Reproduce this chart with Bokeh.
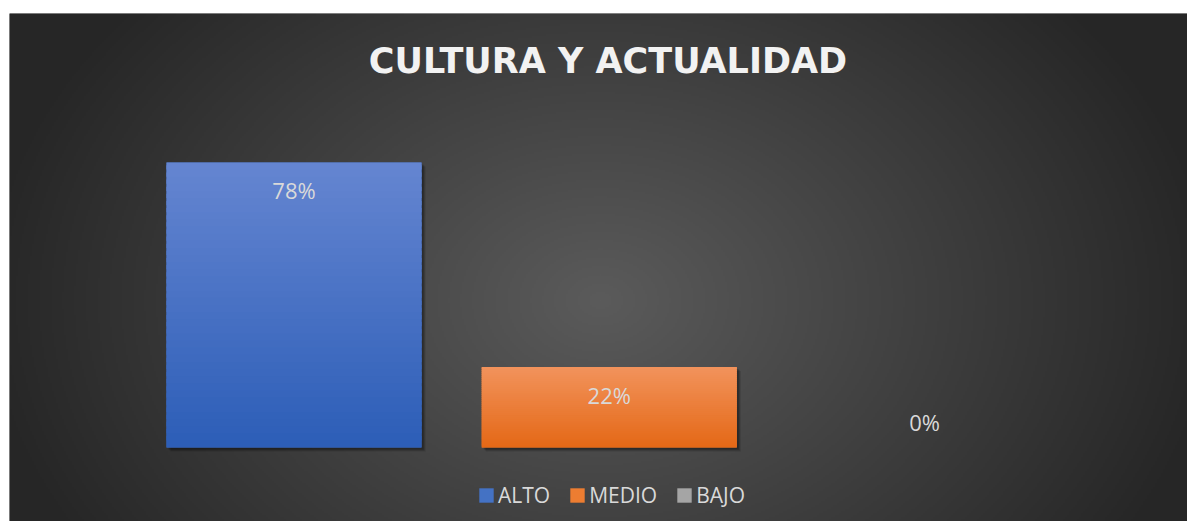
import numpy as np
from bokeh.plotting import figure
from bokeh.models import Range1d, ColumnDataSource, Legend, LegendItem, Label
from bokeh.core.properties import value
from bokeh.embed import file_html
from bokeh.resources import INLINE

# ---- data ----
categories = ["ALTO", "MEDIO", "BAJO"]
values = [78, 22, 0]
labels = ["78%", "22%", "0%"]
title_text = "CULTURA Y ACTUALIDAD"

# ---- styles ----
legend_colors = ["#4472c4", "#ed7d31", "#a5a5a5"]
top_colors = ["#6586d1", "#f2935c", "#b8b8b8"]
bottom_colors = ["#2c5db7", "#e46816", "#8f8f8f"]
FONT = "Open Sans"

W, H = 1187, 521
ML, MT = 9, 13
FRAME_W, FRAME_H = W - ML, H - MT
x_start, x_end = -0.9025, 2.8342
y_start, y_end = -20.25, 118.77
bar_w = 0.809
px_x = (x_end - x_start) / FRAME_W   # data units per pixel
px_y = (y_end - y_start) / FRAME_H

p = figure(width=W, height=H, x_range=Range1d(x_start, x_end), y_range=Range1d(y_start, y_end),
           output_backend="svg", toolbar_location=None,
           x_axis_location=None, y_axis_location=None,
           min_border=0, min_border_top=MT, min_border_left=ML,
           border_fill_color="white", outline_line_color=None,
           background_fill_color="#333333")
p.grid.visible = False

# ---- radial gradient background (decoration) ----
iw, ih = FRAME_W // 2, FRAME_H // 2
gx = ML + (np.arange(iw) + 0.5) * FRAME_W / iw
gy = H - (np.arange(ih) + 0.5) * FRAME_H / ih
PX, PY = np.meshgrid(gx, gy)
cx, cy, rx, ry = 600.0, 300.0, 620.0, 460.0
t = np.clip(np.sqrt(((PX - cx) / rx) ** 2 + ((PY - cy) / ry) ** 2), 0, 1)
c_in, c_out = 0x5b, 0x26
g = (c_in + (c_out - c_in) * t).astype(np.uint32)
img = (255 << 24) | (g << 16) | (g << 8) | g
p.image_rgba(image=[img.astype(np.uint32)], x=x_start, y=y_start,
             dw=x_end - x_start, dh=y_end - y_start)


def hex2rgb(h):
    h = h.lstrip("#")
    return np.array([int(h[i:i + 2], 16) for i in (0, 2, 4)], dtype=float)


def mix(a, b, f):
    c = hex2rgb(a) * (1 - f) + hex2rgb(b) * f
    return "#%02x%02x%02x" % tuple(int(round(v)) for v in c)


xs = list(range(len(categories)))

# soft shadows (right / bottom)
for k, a in ((4, 0.12), (3, 0.15), (2, 0.2)):
    p.vbar(x=[x + k * px_x for x, v in zip(xs, values) if v > 0],
           top=[v - k * px_y for v in values if v > 0],
           bottom=-k * px_y, width=bar_w, fill_color="black", fill_alpha=a, line_color=None)

# solid bars (used by the legend; covered by gradient segments)
solid = []
for i, v in enumerate(values):
    r = p.vbar(x=[xs[i]], top=[v], bottom=0, width=bar_w,
               fill_color=legend_colors[i], line_color=None)
    solid.append(r)

# gradient segments derived from the values
N = 40
seg = dict(x=[], bottom=[], top=[], color=[])
for i, v in enumerate(values):
    if v <= 0:
        continue
    for k in range(N):
        seg["x"].append(xs[i])
        seg["bottom"].append(v * k / N)
        seg["top"].append(min(v, v * (k + 1.6) / N))
        seg["color"].append(mix(bottom_colors[i], top_colors[i], (k + 0.5) / N))
p.vbar(x="x", bottom="bottom", top="top", width=bar_w, fill_color="color",
       line_color=None, source=ColumnDataSource(seg))

# data labels
offsets = [28 if v > 0 else -26 for v in values]
p.text(x="x", y="y", text="t", y_offset="o",
       source=ColumnDataSource(dict(x=xs, y=values, t=labels, o=offsets)),
       text_align="center", text_baseline="middle",
       text_font=value(FONT), text_font_size="22px", text_color="#d9d9d9")

# title
p.add_layout(Label(x=598.5, y=H - 60, x_units="screen", y_units="screen", text=title_text,
                   text_align="center", text_baseline="alphabetic",
                   text_font="DejaVu Sans", text_font_style="bold", text_font_size="35px",
                   text_color="#f2f2f2"))

# legend
legend = Legend(items=[LegendItem(label=c, renderers=[solid[i]]) for i, c in enumerate(categories)],
                orientation="horizontal", location=(468, 12),
                glyph_width=18, glyph_height=18, label_standoff=3, spacing=18,
                padding=0, margin=0, border_line_color=None, background_fill_alpha=0,
                label_text_font=FONT, label_text_font_size="21px",
                label_text_color="#d9d9d9")
p.add_layout(legend)

open("out.html", "w").write(file_html(p, INLINE))
